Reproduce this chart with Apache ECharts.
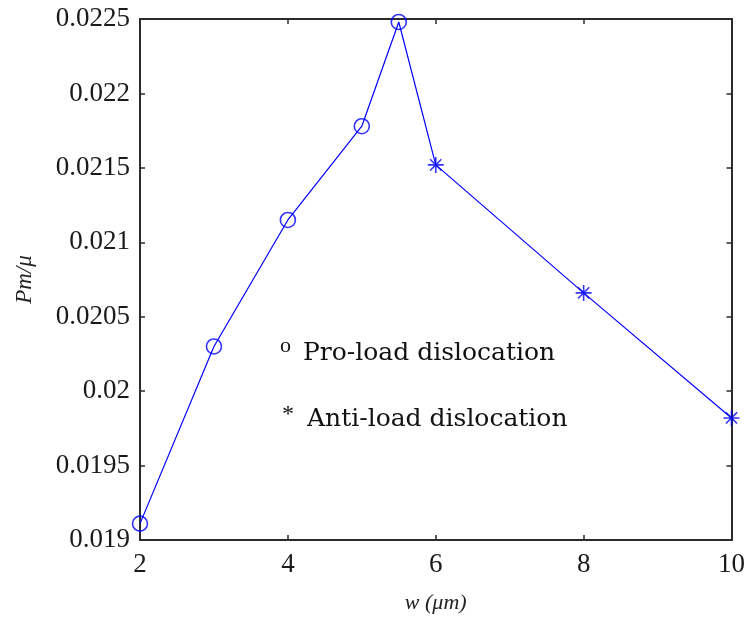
<!DOCTYPE html>
<html>
<head>
<meta charset="utf-8">
<script src="https://cdn.jsdelivr.net/npm/echarts@6/dist/echarts.min.js"></script>
<style>
  html, body { margin: 0; padding: 0; background: #fff; }
  #chart { width: 748px; height: 619px; }
</style>
</head>
<body>
<div id="chart"></div>
<script>
// Pro-load dislocation points (circles)
const proW  = [2, 3, 4, 5, 5.5];
const proPm = [0.01911, 0.02030, 0.02115, 0.02178, 0.02248];
// Anti-load dislocation points (asterisks)
const antiW  = [6, 8, 10];
const antiPm = [0.02152, 0.02066, 0.01982];
// Axis ticks
const xTicks = [2, 4, 6, 8, 10];
const yTicks = [0.019, 0.0195, 0.02, 0.0205, 0.021, 0.0215, 0.022, 0.0225];

const proPts  = proW.map((w, i) => [w, proPm[i]]);
const antiPts = antiW.map((w, i) => [w, antiPm[i]]);
const allPts  = proPts.concat(antiPts);

const AX = '#2b2b2b';
const BLUE = '#0000ff';
const SERIF = '"Liberation Serif", "Times New Roman", serif';
const asterisk = 'path://M0,-10L0,10M-10,0L10,0M-7,-7L7,7M-7,7L7,-7';

const chart = echarts.init(document.getElementById('chart'));

const tickFmt = v => {
  const s = v.toFixed(4).replace(/0+$/, '');
  return s.endsWith('.') ? s.slice(0, -1) : s;
};

const baseX = {
  type: 'value', min: xTicks[0], max: xTicks[xTicks.length - 1], interval: 2,
  splitLine: { show: false },
  axisLine: { show: true, onZero: false, lineStyle: { color: AX, width: 2 } },
  axisTick: { show: true, inside: true, length: 5, lineStyle: { color: AX, width: 1.5 } }
};
const baseY = {
  type: 'value', min: yTicks[0], max: yTicks[yTicks.length - 1], interval: 0.0005,
  splitLine: { show: false },
  axisLine: { show: true, onZero: false, lineStyle: { color: AX, width: 2 } },
  axisTick: { show: true, inside: true, length: 5, lineStyle: { color: AX, width: 1.5 } }
};

chart.setOption({
  animation: false,
  backgroundColor: '#fff',
  grid: { left: 140, right: 16, top: 19, bottom: 78 },
  xAxis: [
    Object.assign({}, baseX, {
      position: 'bottom',
      name: 'w (\u03bcm)', nameLocation: 'middle', nameGap: 52,
      nameTextStyle: { fontFamily: SERIF, fontStyle: 'italic', fontSize: 22, color: '#222' },
      axisLabel: { margin: 11, fontFamily: SERIF, fontSize: 27, color: '#1a1a1a' }
    }),
    Object.assign({}, baseX, { position: 'top', axisLabel: { show: false } })
  ],
  yAxis: [
    Object.assign({}, baseY, {
      position: 'left',
      name: 'Pm/\u03bc', nameLocation: 'middle', nameGap: 104,
      nameTextStyle: { fontFamily: SERIF, fontStyle: 'italic', fontSize: 23, color: '#222' },
      axisLabel: { margin: 10, fontFamily: SERIF, fontSize: 27, color: '#1a1a1a', formatter: tickFmt }
    }),
    Object.assign({}, baseY, { position: 'right', axisLabel: { show: false } })
  ],
  series: [
    {
      type: 'line', data: allPts, symbol: 'none',
      lineStyle: { color: BLUE, width: 1.2 }, z: 2
    },
    {
      type: 'scatter', data: proPts, symbol: 'circle', symbolSize: 15,
      itemStyle: { color: 'rgba(0,0,0,0)', borderColor: BLUE, borderWidth: 1.6 }, z: 3
    },
    {
      type: 'scatter', data: antiPts, symbol: asterisk, symbolSize: 16,
      itemStyle: { color: 'none', borderColor: BLUE, borderWidth: 1.6 }, z: 3
    }
  ],
  graphic: [
    { type: 'text', left: 280, top: 335, style: { text: 'o', font: '22px ' + SERIF, fill: '#111' } },
    { type: 'text', left: 303, top: 341, style: { text: 'Pro-load dislocation', font: '25px "DejaVu Serif", serif', fill: '#111' } },
    { type: 'text', left: 282, top: 403, style: { text: '*', font: '24px ' + SERIF, fill: '#111' } },
    { type: 'text', left: 307, top: 407, style: { text: 'Anti-load dislocation', font: '25px "DejaVu Serif", serif', fill: '#111' } }
  ]
});
</script>
</body>
</html>
